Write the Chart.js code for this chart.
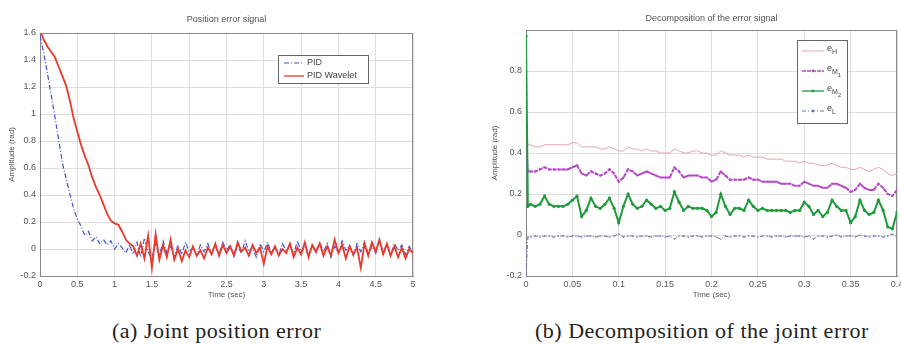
<!DOCTYPE html>
<html>
<head>
<meta charset="utf-8">
<script src="https://cdn.jsdelivr.net/npm/chart.js@4.4.1/dist/chart.umd.min.js"></script>
<style>
  html, body { margin: 0; padding: 0; background: #fff; }
  body { width: 901px; height: 345px; position: relative; overflow: hidden; }
  canvas { position: absolute; top: 0; }
  #errorChart { left: 0; }
  #decompChart { left: 450px; }
  .caption {
    position: absolute; top: 320px;
    font-family: "Liberation Serif", serif; font-size: 22px; line-height: 22px;
    letter-spacing: 0.5px; color: #222; white-space: nowrap;
  }
</style>
</head>
<body>
<canvas id="errorChart" width="445" height="305"></canvas>
<canvas id="decompChart" width="451" height="305"></canvas>
<div class="caption" style="left:112px">(a) Joint position error</div>
<div class="caption" style="left:535px">(b) Decomposition of the joint error</div>

<script>
// ---- (a) position error, one sample every 0.05 s from 0 to 5 s ----
const stepA = 0.05;
const pidError = [
  1.58, 1.45, 1.30, 1.14, 0.98, 0.81, 0.64, 0.52, 0.41, 0.30,
  0.22, 0.17, 0.10, 0.13, 0.06, 0.09, 0.04, 0.07, 0.03, 0.06,
  0.00, 0.04, 0.01, -0.03, 0.03, -0.04,
  0.05, -0.06, 0.08, -0.02, -0.07, 0.04, -0.05, 0.06, -0.03, 0.02,
  -0.06, 0.03, -0.04, 0.05, -0.02, 0.01, -0.05, 0.03, -0.02, 0.04,
  -0.03, 0.02, -0.04, 0.05, -0.01, 0.03, -0.05, 0.02, -0.03, 0.06,
  -0.02, 0.01, -0.06, 0.04, -0.02, 0.05, -0.03, 0.02, -0.05, 0.04,
  -0.01, 0.03, -0.04, 0.06, -0.02, 0.02, -0.05, 0.03, -0.03, 0.05,
  -0.02, 0.04, -0.06, 0.02, -0.03, 0.06, -0.01, 0.03, -0.05, 0.04,
  -0.02, 0.05, -0.04, 0.02, -0.03, 0.06, -0.02, 0.03, -0.05, 0.04,
  -0.01, 0.03, -0.04, 0.02, -0.03
];
const waveletError = [
  1.62, 1.55, 1.50, 1.46, 1.42, 1.35, 1.28, 1.21, 1.10, 0.97,
  0.87, 0.77, 0.69, 0.62, 0.53, 0.46, 0.40, 0.33, 0.26, 0.21,
  0.19, 0.18, 0.13, 0.07, 0.04, 0.02,
  -0.05, 0.04, -0.07, 0.10, -0.14, 0.11, -0.08, 0.03, -0.06, 0.07,
  -0.08, 0.00, -0.09, -0.01, -0.06, 0.02, -0.05, -0.01, -0.07, 0.01,
  -0.04, 0.04, -0.05, 0.03, -0.03, 0.02, -0.05, 0.05, -0.02, 0.01,
  -0.05, 0.03, -0.03, 0.01, -0.11, 0.02, -0.04, 0.02, -0.05, 0.00,
  -0.03, 0.04, -0.06, 0.01, -0.04, 0.05, -0.06, 0.03, -0.02, 0.04,
  -0.05, 0.02, -0.05, 0.07, -0.03, 0.03, -0.07, 0.02, -0.04, 0.01,
  -0.14, 0.04, -0.05, 0.05, -0.02, 0.07, -0.04, 0.04, -0.05, 0.02,
  -0.06, 0.01, -0.07, 0.00, -0.03
];

// ---- (b) decomposition: t = 0, 0.002, then every 0.005 s up to 0.4 s ----
const stepB = 0.005;
const eH = [
  0.58, 0.44,
  0.44, 0.43, 0.43, 0.44, 0.44, 0.44, 0.44, 0.44, 0.44, 0.45,
  0.45, 0.43, 0.43, 0.43, 0.43, 0.42, 0.42, 0.43, 0.42, 0.41,
  0.41, 0.43, 0.42, 0.42, 0.41, 0.42, 0.41, 0.41, 0.40, 0.40,
  0.40, 0.42, 0.41, 0.40, 0.40, 0.41, 0.41, 0.40, 0.40, 0.39,
  0.39, 0.41, 0.40, 0.39, 0.39, 0.39, 0.38, 0.39, 0.38, 0.38,
  0.38, 0.37, 0.37, 0.37, 0.37, 0.36, 0.36, 0.36, 0.35, 0.36,
  0.35, 0.35, 0.34, 0.34, 0.34, 0.35, 0.34, 0.33, 0.33, 0.32,
  0.32, 0.33, 0.32, 0.31, 0.32, 0.33, 0.32, 0.30, 0.29, 0.30
];
const eM1 = [
  0.45, 0.31,
  0.31, 0.31, 0.32, 0.33, 0.32, 0.32, 0.32, 0.32, 0.32, 0.33,
  0.34, 0.30, 0.29, 0.31, 0.30, 0.29, 0.30, 0.32, 0.30, 0.26,
  0.28, 0.32, 0.31, 0.29, 0.30, 0.31, 0.30, 0.29, 0.28, 0.28,
  0.28, 0.33, 0.31, 0.28, 0.29, 0.29, 0.29, 0.28, 0.28, 0.26,
  0.27, 0.31, 0.29, 0.27, 0.27, 0.27, 0.27, 0.28, 0.27, 0.27,
  0.26, 0.26, 0.26, 0.26, 0.25, 0.25, 0.25, 0.24, 0.24, 0.26,
  0.25, 0.24, 0.24, 0.23, 0.23, 0.25, 0.25, 0.24, 0.23, 0.21,
  0.22, 0.25, 0.23, 0.22, 0.22, 0.25, 0.23, 0.20, 0.19, 0.22
];
const eM2 = [
  0.97, 0.14,
  0.15, 0.14, 0.15, 0.19, 0.15, 0.14, 0.14, 0.14, 0.15, 0.17,
  0.19, 0.09, 0.12, 0.18, 0.14, 0.13, 0.15, 0.18, 0.13, 0.06,
  0.14, 0.20, 0.15, 0.13, 0.14, 0.17, 0.15, 0.13, 0.14, 0.12,
  0.13, 0.21, 0.16, 0.12, 0.14, 0.13, 0.13, 0.13, 0.12, 0.09,
  0.11, 0.20, 0.14, 0.10, 0.13, 0.13, 0.12, 0.17, 0.14, 0.12,
  0.13, 0.12, 0.12, 0.12, 0.12, 0.12, 0.11, 0.12, 0.12, 0.16,
  0.14, 0.10, 0.12, 0.09, 0.11, 0.17, 0.14, 0.12, 0.12, 0.06,
  0.09, 0.17, 0.12, 0.10, 0.11, 0.17, 0.12, 0.04, 0.03, 0.11
];
const eL = [
  -0.2, -0.01,
  -0.01, -0.005, -0.01, -0.005, -0.005, -0.01, -0.005, -0.005, -0.01, -0.005,
  -0.005, -0.01, -0.005, -0.005, -0.01, -0.005, -0.005, -0.01, -0.005, 0.005,
  -0.01, -0.005, -0.005, -0.01, -0.005, -0.005, -0.01, -0.005, -0.005, -0.01,
  -0.005, -0.02, -0.005, -0.005, -0.01, -0.005, -0.005, -0.01, -0.005, -0.005,
  -0.01, -0.02, -0.005, -0.01, -0.005, -0.005, -0.01, -0.005, -0.005, -0.01,
  -0.005, -0.005, -0.01, -0.005, -0.005, -0.01, -0.005, -0.005, -0.005, -0.01,
  -0.005, -0.02, -0.005, -0.005, -0.01, -0.005, 0.0, -0.01, -0.005, -0.005,
  -0.01, 0.0, -0.005, -0.01, -0.005, -0.005, -0.01, -0.005, 0.005, -0.01
];

const ticksA = { xStep: 0.5, yStep: 0.2 };
const ticksB = { xStep: 0.05, yStep: 0.2 };

const FONT = '"Liberation Sans", Arial, sans-serif';
const TEXT = '#555';
const GRID = '#dedede';

function timeA(i) { return i * stepA; }
function timeB(i) { return i === 0 ? 0 : (i === 1 ? 0.002 : (i - 1) * stepB); }
function toPoints(values, timeFn) { return values.map((v, i) => ({ x: timeFn(i), y: v })); }
function fmt(v) { return String(+v.toFixed(2)); }

// box around the whole plot area, like the matlab axes
const framePlugin = {
  id: 'frame',
  beforeDatasetsDraw(chart) {
    const { ctx, chartArea: a } = chart;
    ctx.save();
    ctx.strokeStyle = '#8a8a8a';
    ctx.lineWidth = 1;
    ctx.strokeRect(a.left + 0.5, a.top + 0.5, a.right - a.left - 1, a.bottom - a.top);
    ctx.restore();
  }
};

function drawLabel(ctx, label, x, y, size, sub) {
  ctx.fillStyle = '#444';
  ctx.textBaseline = 'middle';
  ctx.textAlign = 'left';
  if (!sub) {
    ctx.font = size + 'px ' + FONT;
    ctx.fillText(label, x, y);
    return;
  }
  const parts = label.split('_');
  ctx.font = size + 'px ' + FONT;
  ctx.fillText(parts[0], x, y - 2);
  x += ctx.measureText(parts[0]).width;
  if (parts[1]) {
    ctx.font = (size - 2) + 'px ' + FONT;
    ctx.fillText(parts[1][0], x, y + 1);
    x += ctx.measureText(parts[1][0]).width;
    if (parts[1].length > 1) {
      ctx.font = (size - 3) + 'px ' + FONT;
      ctx.fillText(parts[1].slice(1), x, y + 4);
    }
  }
}

// legend box drawn inside the plot
const boxLegend = {
  id: 'boxLegend',
  afterDatasetsDraw(chart, args, opts) {
    const { ctx } = chart;
    ctx.save();
    ctx.fillStyle = '#fff';
    ctx.fillRect(opts.x, opts.y, opts.w, opts.h);
    ctx.strokeStyle = '#666';
    ctx.lineWidth = 1;
    ctx.strokeRect(opts.x + 0.5, opts.y + 0.5, opts.w, opts.h);
    chart.data.datasets.forEach((ds, i) => {
      const y = opts.y + opts.firstRow + i * opts.rowGap;
      const x0 = opts.x + opts.lineStart;
      const x1 = x0 + opts.lineLen;
      ctx.strokeStyle = ds.borderColor;
      ctx.lineWidth = Math.min(ds.borderWidth, 1.3);
      ctx.setLineDash(ds.borderDash || []);
      ctx.beginPath();
      ctx.moveTo(x0, y);
      ctx.lineTo(x1, y);
      ctx.stroke();
      ctx.setLineDash([]);
      if (ds.pointRadius > 0) {
        ctx.fillStyle = ds.borderColor;
        ctx.beginPath();
        ctx.arc((x0 + x1) / 2, y, 1.4, 0, 2 * Math.PI);
        ctx.fill();
      }
      drawLabel(ctx, ds.label, x1 + 3, y, opts.font, opts.sub);
    });
    ctx.restore();
  }
};

function axisOptions(min, max, step, size, title, titlePad, isX, hideMax) {
  return {
    type: 'linear',
    min: min,
    max: max,
    afterFit: s => {
      if (isX) {
        s.height = size;
        s.paddingLeft = 0;
        s.paddingRight = 0;
      } else {
        s.width = size;
      }
    },
    ticks: {
      stepSize: step,
      padding: isX ? 3 : 4,
      maxRotation: 0,
      autoSkip: false,
      color: TEXT,
      font: { family: FONT, size: 9 },
      callback: v => (hideMax && Math.abs(v - max) < 1e-9) ? '' : fmt(v)
    },
    grid: { color: GRID, drawTicks: false },
    border: { color: '#8a8a8a' },
    title: {
      display: true,
      text: title,
      color: TEXT,
      font: { family: FONT, size: 8 },
      padding: titlePad
    }
  };
}

function baseOptions(titleText, titlePad, layoutPad) {
  return {
    responsive: false,
    animation: false,
    layout: { padding: layoutPad },
    plugins: {
      legend: { display: false },
      tooltip: { enabled: false },
      title: {
        display: true,
        fullSize: false,
        text: titleText,
        color: TEXT,
        font: { family: FONT, size: 9, weight: 'normal' },
        padding: titlePad
      }
    }
  };
}

function initErrorChart() {
  const ctx = document.getElementById('errorChart');
  const options = baseOptions('Position error signal', { top: 14, bottom: 8.2 }, { left: 0, right: 32, top: 0, bottom: 5 });
  options.plugins.boxLegend = { x: 278, y: 55, w: 90, h: 28, firstRow: 8, rowGap: 13, lineStart: 6, lineLen: 20, font: 9, sub: false };
  options.scales = {
    x: axisOptions(0, 5, ticksA.xStep, 24, 'Time (sec)', { top: 0, bottom: 0 }, true, false),
    y: axisOptions(-0.2, 1.6, ticksA.yStep, 40, 'Amplitude (rad)', { top: 6.6, bottom: 0 }, false, false)
  };
  new Chart(ctx, {
    type: 'line',
    data: {
      datasets: [
        {
          label: 'PID',
          data: toPoints(pidError, timeA),
          borderColor: '#4354c8',
          borderWidth: 1.2,
          borderDash: [5, 2, 1, 2],
          pointRadius: 0,
          order: 1
        },
        {
          label: 'PID Wavelet',
          data: toPoints(waveletError, timeA),
          borderColor: '#e8392e',
          borderWidth: 1.8,
          pointRadius: 0,
          order: 0
        }
      ]
    },
    options: options,
    plugins: [framePlugin, boxLegend]
  });
}

function initDecompChart() {
  const ctx = document.getElementById('decompChart');
  const options = baseOptions('Decomposition of the error signal', { top: 13, bottom: 6.2 }, { left: 35, right: 3, top: 0, bottom: 5 });
  options.plugins.boxLegend = { x: 347, y: 40, w: 50, h: 83, firstRow: 11, rowGap: 20, lineStart: 5, lineLen: 22, font: 9, sub: true };
  options.scales = {
    x: axisOptions(0, 0.4, ticksB.xStep, 24, 'Time (sec)', { top: 0, bottom: 0 }, true, false),
    y: axisOptions(-0.2, 1, ticksB.yStep, 41, 'Amplitude (rad)', { top: 4.6, bottom: 0 }, false, true)
  };
  new Chart(ctx, {
    type: 'line',
    data: {
      datasets: [
        {
          label: 'e_H',
          data: toPoints(eH, timeB),
          borderColor: '#e8a2ae',
          borderWidth: 1,
          pointRadius: 0,
          order: 3
        },
        {
          label: 'e_M1',
          data: toPoints(eM1, timeB),
          borderColor: '#b548c6',
          borderWidth: 2,
          borderDash: [4, 1],
          pointRadius: 1.1,
          pointBorderWidth: 0,
          pointBackgroundColor: '#b548c6',
          order: 2
        },
        {
          label: 'e_M2',
          data: toPoints(eM2, timeB),
          borderColor: '#1f9a3c',
          borderWidth: 2,
          pointRadius: 1.6,
          pointBorderWidth: 0,
          pointBackgroundColor: '#1f9a3c',
          order: 0
        },
        {
          label: 'e_L',
          data: toPoints(eL, timeB),
          borderColor: '#6a74b8',
          borderWidth: 1,
          borderDash: [4, 2, 1, 2],
          pointRadius: 0.7,
          pointBorderWidth: 0,
          pointBackgroundColor: '#6a74b8',
          order: 1
        }
      ]
    },
    options: options,
    plugins: [framePlugin, boxLegend]
  });
}

document.addEventListener('DOMContentLoaded', function() {
  initErrorChart();
  initDecompChart();
});
</script>
</body>
</html>
